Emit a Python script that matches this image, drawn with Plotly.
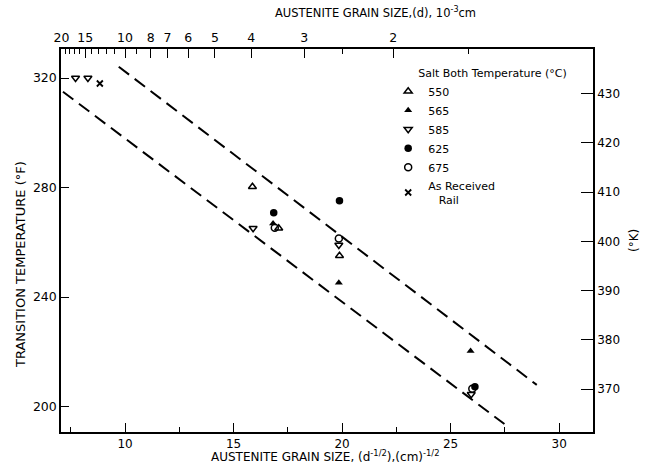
import numpy as np
import plotly.graph_objects as go

# ---- data ----
x550 = [15.87, 17.08, 19.88]
y550 = [280.3, 265.1, 255.1]
x565 = [16.82, 19.85, 25.92]
y565 = [266.9, 245.2, 220.3]
x585 = [7.72, 8.29, 15.90, 19.85, 25.95]
y585 = [320.0, 320.0, 265.1, 259.0, 204.5]
x625 = [16.85, 19.88, 26.12]
y625 = [270.8, 275.2, 207.2]
x675 = [16.90, 19.85, 26.00]
y675 = [265.3, 261.4, 206.5]
xrail = [8.84]
yrail = [318.0]

upper_x = [9.71, 28.97]
upper_y = [324.1, 207.9]
lower_x = [7.14, 27.48]
lower_y = [315.0, 193.6]

top_major_d = [20, 15, 10, 8, 7, 6, 5, 4, 3, 2]
top_minor_d = [19, 18, 17, 16, 14, 13, 12, 11, 9, 2.5, 1.5]
bottom_ticks = [10, 15, 20, 25, 30]
bottom_minor = [7.5, 12.5, 17.5, 22.5, 27.5]
left_ticks = [200, 240, 280, 320]
right_ticks = [370, 380, 390, 400, 410, 420, 430]

xr = [7.05, 31.56]
yr = [190.7, 330.6]


def f_to_k(f):
    return (f - 32.0) / 1.8 + 273.15


def d_to_x(d):
    return 1.0 / np.sqrt(np.array(d, dtype=float) * 1e-3)


FONT = "DejaVu Sans"
fig = go.Figure()

fig.add_trace(go.Scatter(x=upper_x, y=upper_y, mode="lines", showlegend=False,
                         line=dict(color="black", width=2, dash="13px,7px")))
fig.add_trace(go.Scatter(x=lower_x, y=lower_y, mode="lines", showlegend=False,
                         line=dict(color="black", width=2, dash="13px,7px")))

fig.add_trace(go.Scatter(x=x550, y=y550, mode="markers", name="550",
                         marker=dict(symbol="triangle-up-open", size=7, color="black",
                                     line=dict(width=1.5))))
fig.add_trace(go.Scatter(x=x565, y=y565, mode="markers", name="565",
                         marker=dict(symbol="triangle-up", size=7, color="black")))
fig.add_trace(go.Scatter(x=x585, y=y585, mode="markers", name="585",
                         marker=dict(symbol="triangle-down-open", size=7, color="black",
                                     line=dict(width=1.5))))
fig.add_trace(go.Scatter(x=x675, y=y675, mode="markers", name="675",
                         marker=dict(symbol="circle-open", size=7, color="black",
                                     line=dict(width=1.5))))
fig.add_trace(go.Scatter(x=x625, y=y625, mode="markers", name="625",
                         marker=dict(symbol="circle", size=7.5, color="black")))
fig.add_trace(go.Scatter(x=xrail, y=yrail, mode="markers",
                         name="As Received<br>   Rail",
                         marker=dict(symbol="x-thin-open", size=6, color="black",
                                     line=dict(width=1.8, color="black"))))

# invisible traces to carry secondary axes
fig.add_trace(go.Scatter(x=xr, y=yr, xaxis="x2", yaxis="y", mode="markers",
                         marker=dict(opacity=0), showlegend=False, hoverinfo="skip"))
fig.add_trace(go.Scatter(x=xr, y=[f_to_k(v) for v in yr], xaxis="x", yaxis="y2",
                         mode="markers", marker=dict(opacity=0), showlegend=False,
                         hoverinfo="skip"))

order = {"550": 1, "565": 2, "585": 3, "625": 4, "675": 5}
for tr in fig.data:
    if tr.name in order:
        tr.legendrank = order[tr.name]
    elif tr.name and tr.name.startswith("As"):
        tr.legendrank = 6

axis_common = dict(showline=True, linecolor="black", linewidth=1.5, mirror=False,
                   showgrid=False, zeroline=False, ticks="inside", tickcolor="black",
                   tickfont=dict(family=FONT, size=12.5, color="black"))

fig.update_layout(
    width=649, height=467,
    margin=dict(l=61, r=56, t=49, b=35),
    paper_bgcolor="white", plot_bgcolor="white",
    font=dict(family=FONT, color="black"),
    xaxis=dict(range=xr, tickvals=bottom_ticks, ticklen=9, tickwidth=1,
               minor=dict(tickvals=bottom_minor, ticklen=5, ticks="inside",
                          tickcolor="black"),
               **dict(axis_common, tickfont=dict(family=FONT, size=12, color="black"))),
    xaxis2=dict(range=xr, overlaying="x", side="top", anchor="y",
                tickvals=list(d_to_x(top_major_d)),
                ticktext=[str(d) for d in top_major_d], ticklen=9, tickwidth=1,
                minor=dict(tickvals=list(d_to_x(top_minor_d)), ticklen=5,
                           ticks="inside", tickcolor="black"),
                **axis_common),
    yaxis=dict(range=yr, tickvals=left_ticks, ticklen=8, tickwidth=1, **axis_common),
    yaxis2=dict(range=[f_to_k(v) for v in yr], overlaying="y", side="right",
                anchor="x", tickvals=right_ticks, ticklen=12, tickwidth=1,
                **dict(axis_common, tickfont=dict(family=FONT, size=12, color="black"))),
    legend=dict(x=0.615, y=0.965, xanchor="left", yanchor="top",
                bgcolor="rgba(0,0,0,0)", borderwidth=0,
                font=dict(family=FONT, size=11, color="black"),
                title=dict(text="&nbsp;&nbsp;&nbsp;&nbsp;&nbsp;&nbsp;&nbsp;&nbsp;Salt Both Temperature (°C)",
                           font=dict(family=FONT, size=11, color="black")),
                itemwidth=30, tracegroupgap=0, traceorder="normal"),
    annotations=[
        dict(text="AUSTENITE GRAIN SIZE,(d), 10<sup>-3</sup>cm", x=375, y=13,
             showarrow=False, font=dict(family=FONT, size=11.5, color="black")),
        dict(text="AUSTENITE GRAIN SIZE, (d<sup>-1/2</sup>),(cm)<sup>-1/2</sup>",
             x=325, y=466, showarrow=False, yanchor="bottom",
             font=dict(family=FONT, size=12, color="black")),
        dict(text="TRANSITION TEMPERATURE (°F)", x=20, y=265, textangle=-90,
             showarrow=False, font=dict(family=FONT, size=13, color="black")),
        dict(text="(°K)", x=634, y=241, textangle=-90, showarrow=False,
             font=dict(family=FONT, size=12, color="black")),
    ],
)

# convert pixel-positioned annotations to paper coords
W, H = 649, 467
L, R, T, B = 61, 56, 49, 35
pw, ph = W - L - R, H - T - B
anns = []
for a in fig.layout.annotations:
    a = a.to_plotly_json()
    a["xref"] = "paper"
    a["yref"] = "paper"
    a["x"] = (a["x"] - L) / pw
    a["y"] = (H - B - a["y"]) / ph
    a["xanchor"] = "center"
    a.setdefault("yanchor", "middle")
    anns.append(a)
fig.layout.annotations = anns

fig.write_html("out.html")
